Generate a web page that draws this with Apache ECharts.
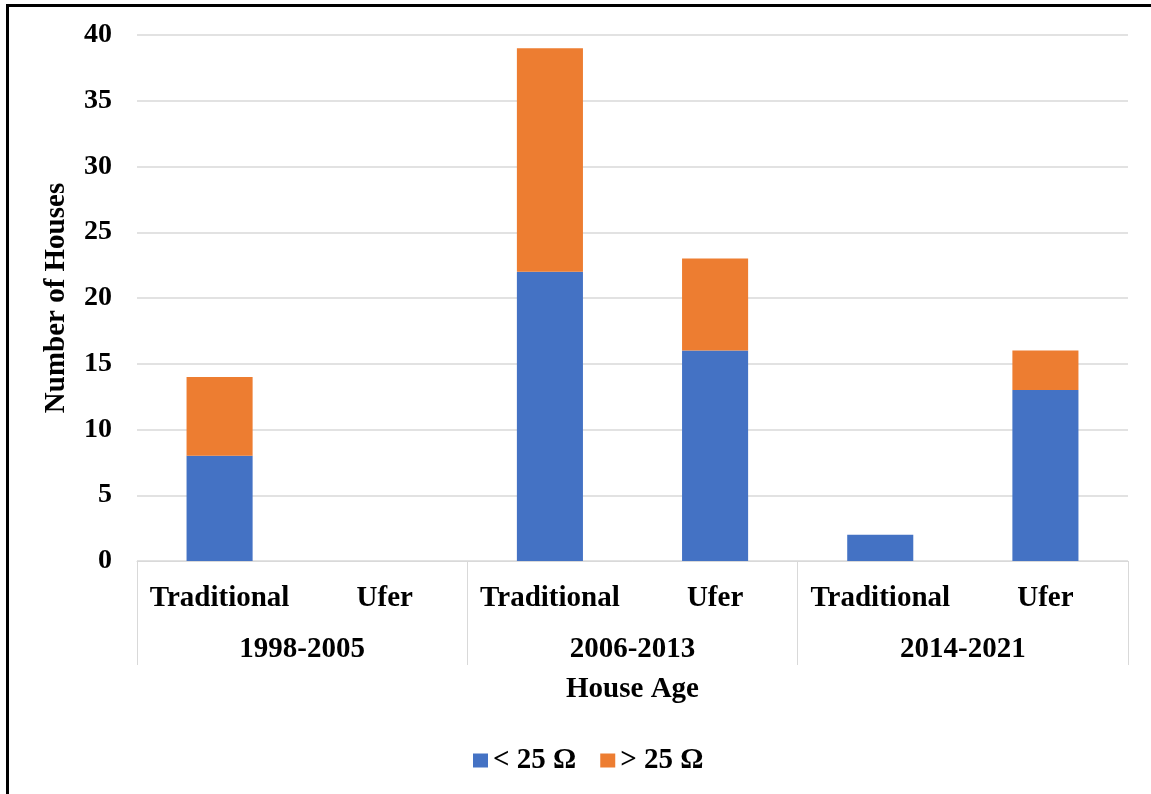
<!DOCTYPE html>
<html>
<head>
<meta charset="utf-8">
<script src="https://cdn.jsdelivr.net/npm/echarts@6/dist/echarts.min.js"></script>
<style>
  html, body { margin: 0; padding: 0; background: #fff; }
  #chart { width: 1151px; height: 794px; }
</style>
</head>
<body>
<div id="chart"></div>
<script>
// Ground type per house age band, stacked by measured resistance
const groundTypes = ['Traditional', 'Ufer', 'Traditional', 'Ufer', 'Traditional', 'Ufer'];
const ageBands = ['1998-2005', '2006-2013', '2014-2021'];
const below25 = [8, 0, 22, 16, 2, 13];
const above25 = [6, 0, 17, 7, 0, 3];
const yTicks = { min: 0, max: 40, interval: 5 };

const FONT = "'Liberation Serif', 'Times New Roman', serif";
const GRID_GRAY = '#d9d9d9';

const chart = echarts.init(document.getElementById('chart'), null, { renderer: 'canvas' });

chart.setOption({
  backgroundColor: '#ffffff',
  animation: false,
  textStyle: { fontFamily: FONT, fontWeight: 'bold', color: '#000' },
  grid: { left: 137, right: 23, top: 35, bottom: 233, containLabel: false },
  legend: {
    left: 468,
    top: 741,
    itemWidth: 15,
    itemHeight: 14,
    itemGap: 24,
    icon: 'rect',
    textStyle: { fontFamily: FONT, fontWeight: 'bold', fontSize: 29, color: '#000' },
    data: ['< 25 Ω', '> 25 Ω']
  },
  xAxis: [
    {
      type: 'category',
      data: groundTypes,
      position: 'bottom',
      axisLine: { show: true, lineStyle: { color: GRID_GRAY, width: 1 } },
      axisTick: { show: false },
      axisLabel: {
        margin: 23,
        fontFamily: FONT, fontWeight: 'bold', fontSize: 29, color: '#000',
        interval: 0
      }
    },
    {
      // outer level: age bands, with tall ticks acting as group dividers
      type: 'category',
      data: ageBands,
      position: 'bottom',
      boundaryGap: true,
      axisLine: { show: false },
      axisTick: { show: true, length: 104, lineStyle: { color: GRID_GRAY, width: 1 } },
      axisLabel: {
        margin: 74,
        fontFamily: FONT, fontWeight: 'bold', fontSize: 29, color: '#000',
        interval: 0
      },
      name: 'House Age',
      nameLocation: 'middle',
      nameGap: 114,
      nameTextStyle: { fontFamily: FONT, fontWeight: 'bold', fontSize: 29, color: '#000' }
    }
  ],
  yAxis: {
    type: 'value',
    min: yTicks.min,
    max: yTicks.max,
    interval: yTicks.interval,
    axisLine: { show: false },
    axisTick: { show: false },
    splitLine: { show: true, lineStyle: { color: GRID_GRAY, width: 1.5 } },
    axisLabel: {
      margin: 25,
      padding: [4, 0, 0, 0],
      fontFamily: FONT, fontWeight: 'bold', fontSize: 28, color: '#000'
    },
    name: 'Number of Houses',
    nameLocation: 'middle',
    nameGap: 66,
    nameRotate: 90,
    nameTextStyle: { fontFamily: FONT, fontWeight: 'bold', fontSize: 29, color: '#000' }
  },
  series: [
    {
      name: '< 25 Ω',
      type: 'bar',
      stack: 'houses',
      xAxisIndex: 0,
      barWidth: '40%',
      itemStyle: { color: '#4472C4' },
      data: below25
    },
    {
      name: '> 25 Ω',
      type: 'bar',
      stack: 'houses',
      xAxisIndex: 0,
      barWidth: '40%',
      itemStyle: { color: '#ED7D31' },
      data: above25
    }
  ],
  graphic: [
    {
      type: 'line',
      shape: { x1: 6, y1: 5.5, x2: 1151, y2: 5.5 },
      style: { stroke: '#000', lineWidth: 3 }
    },
    {
      type: 'line',
      shape: { x1: 7.5, y1: 4, x2: 7.5, y2: 794 },
      style: { stroke: '#000', lineWidth: 3 }
    }
  ]
});
</script>
</body>
</html>
